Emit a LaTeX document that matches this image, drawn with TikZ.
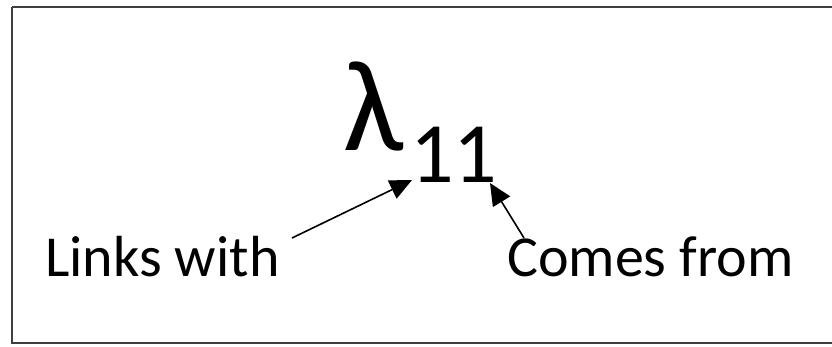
\documentclass[tikz,border=0pt]{standalone}
\usepackage{fontspec}
\setmainfont{Carlito}
\usetikzlibrary{arrows.meta}
\begin{document}
\begin{tikzpicture}[x=1pt,y=-1pt,
  lbl/.style={inner sep=0pt,font=\fontsize{58}{60}\selectfont},
  conn/.style={line width=1.6pt,-{Triangle[length=22pt,width=20pt]}},
  frame/.style={line width=2pt,draw=black!75}]
\useasboundingbox (0,0) rectangle (832,346);
\draw[frame] (12,7) -- (840,7);
\draw[frame] (12,7) -- (12,343) -- (840,343);
\node[inner sep=0pt,anchor=base west,font=\fontsize{130}{130}\selectfont] (lam) at (343,150) {λ};
\node[inner sep=0pt,anchor=base west,font=\fontsize{86}{86}\selectfont] (sub) at (410,182) {11};
\node[lbl,anchor=base west] (links) at (45,276) {Links with};
\node[lbl,anchor=base west] (comes) at (507,276) {Comes from};
\coordinate (a1) at (292,238);
\coordinate (t1) at (412,180);
\coordinate (a2) at (524,238);
\coordinate (t2) at (490,183);
\draw[conn] (a1) -- (t1);
\draw[conn] (a2) -- (t2);
\end{tikzpicture}
\end{document}
